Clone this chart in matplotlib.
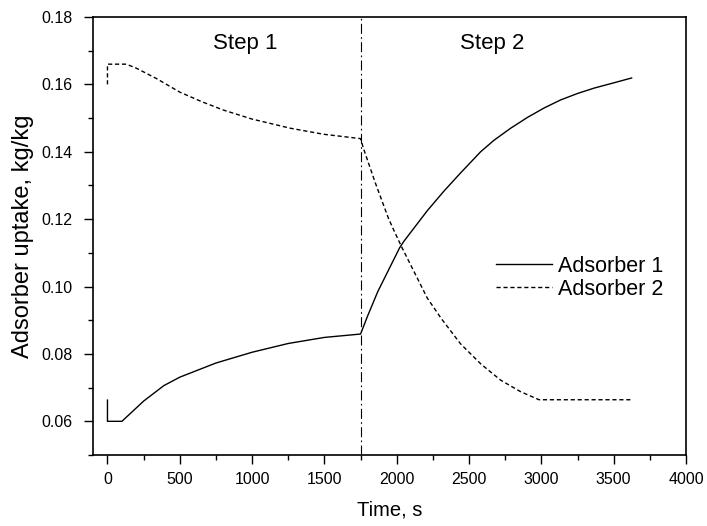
import matplotlib
matplotlib.use("Agg")
import matplotlib.pyplot as plt
from matplotlib.ticker import MultipleLocator

plt.rcParams['font.family'] = ['Liberation Sans', 'DejaVu Sans']

# Adsorber 1 (solid)
ads1_t = [0, 0, 100, 250, 390, 500, 750, 1000, 1250, 1500, 1750,
          1760, 1800, 1869, 2020, 2049, 2211, 2326, 2441, 2580, 2672, 2788, 2904, 3019, 3134, 3250, 3365, 3504, 3624]
ads1_q = [0.0663, 0.0600, 0.0600, 0.0660, 0.0706, 0.0731, 0.0773, 0.0805, 0.0831, 0.0849, 0.0859,
          0.0870, 0.0914, 0.0985, 0.1115, 0.1134, 0.1225, 0.1283, 0.1337, 0.1400, 0.1434, 0.1470, 0.1502,
          0.1530, 0.1554, 0.1573, 0.1589, 0.1605, 0.1619]

# Adsorber 2 (dashed)
ads2_t = [0, 0, 130, 200, 340, 500, 650, 800, 1000, 1263, 1494, 1750,
          1770, 1850, 1944, 1979, 2030, 2211, 2308, 2441, 2582, 2719, 2856, 2984, 3630]
ads2_q = [0.1600, 0.1660, 0.1660, 0.1648, 0.1617, 0.1577, 0.1549, 0.1524, 0.1497, 0.1470, 0.1452, 0.1439,
          0.1410, 0.1310, 0.1201, 0.1168, 0.1121, 0.0966, 0.0905, 0.0830, 0.0770, 0.0722, 0.0688, 0.0664, 0.0664]

step_boundary = 1750
series_labels = ["Adsorber 1", "Adsorber 2"]
step_labels = ["Step 1", "Step 2"]
step_label_x = [951, 2661]
step_label_y = 0.1722

fig = plt.figure(figsize=(7.07, 5.26), dpi=100)
L, R, T, B = 93, 686, 17, 455
ax = fig.add_axes([L / 707, 1 - B / 526, (R - L) / 707, (B - T) / 526])

ax.plot(ads1_t, ads1_q, color='black', lw=1.0, ls='-', label=series_labels[0])
ax.plot(ads2_t, ads2_q, color='black', lw=1.0, ls=(0, (3, 2)), label=series_labels[1])
ax.axvline(step_boundary, color='black', lw=0.8, ls=(0, (9, 3, 1.5, 3)))

for lab, xx in zip(step_labels, step_label_x):
    ax.text(xx, step_label_y, lab, ha='center', va='center', fontsize=16)

ax.set_xlim(-100, 4000)
ax.set_ylim(0.05, 0.18)
ax.xaxis.set_major_locator(MultipleLocator(500))
ax.xaxis.set_minor_locator(MultipleLocator(250))
ax.yaxis.set_major_locator(MultipleLocator(0.02))
ax.yaxis.set_minor_locator(MultipleLocator(0.01))
ax.tick_params(which='both', direction='out', top=False, right=False, labelsize=11.5, width=1.0, pad=5.5)
ax.tick_params(axis='y', which='both', pad=8.5)
ax.tick_params(which='major', length=6.5)
ax.tick_params(which='minor', length=3.6)
ax.set_yticks([0.06, 0.08, 0.10, 0.12, 0.14, 0.16, 0.18])
ax.set_yticklabels(["0.06", "0.08", "0.10", "0.12", "0.14", "0.16", "0.18"])
for s in ax.spines.values():
    s.set_linewidth(1.2)

ax.set_xlabel("Time, s", fontsize=14.5, labelpad=10)
ax.set_ylabel("Adsorber uptake, kg/kg", fontsize=17, labelpad=5)

ax.legend(loc='upper left', bbox_to_anchor=(0.679, 0.455), frameon=False,
          borderaxespad=0, borderpad=0, handlelength=2.6, handletextpad=0.3,
          labelspacing=0.1, fontsize=15.5)

fig.savefig("out.png", dpi=100)
